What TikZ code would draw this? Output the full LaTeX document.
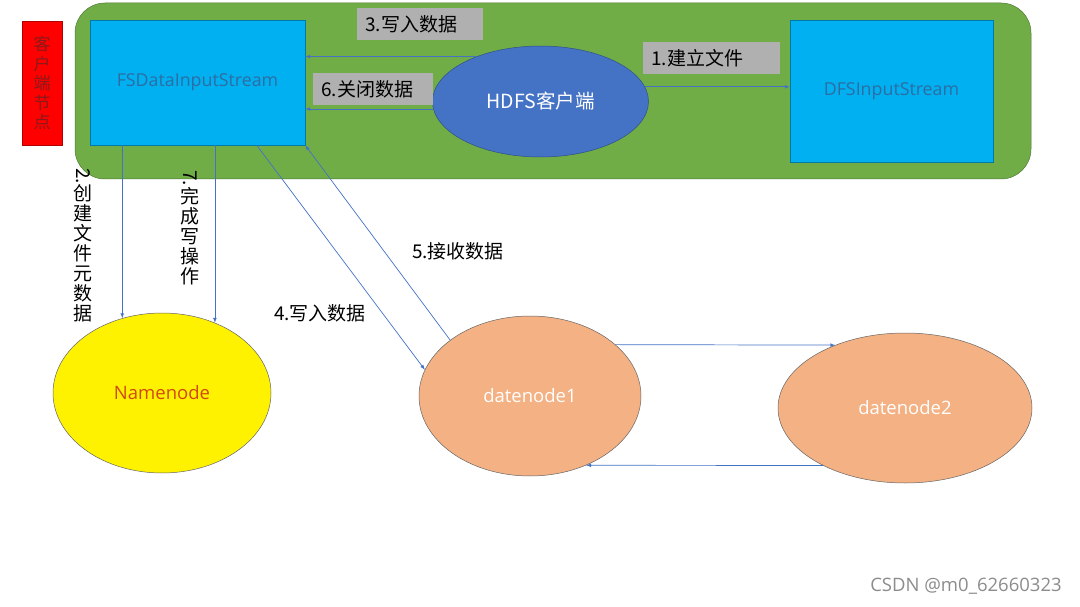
\documentclass[tikz,border=0pt]{standalone}
\usepackage{fontspec}
\usepackage{graphicx}
\setmainfont{Open Sans}
\newfontfamily\cjk{Noto Sans CJK SC}
\usetikzlibrary{shapes.geometric}
\definecolor{clientgreen}{HTML}{70AD47}
\definecolor{streamblue}{HTML}{00B0F0}
\definecolor{streamtext}{HTML}{2E6DA4}
\definecolor{hdfsblue}{HTML}{4472C4}
\definecolor{dnorange}{HTML}{F4B183}
\definecolor{lblgray}{HTML}{B0B0B0}
\definecolor{nametext}{HTML}{D04A14}
\definecolor{sidetext}{HTML}{8A1A1A}

\begin{document}
\begin{tikzpicture}[
  hdfsbox/.style={draw=#1!70!black, line width=0.5pt, fill=#1, inner sep=0pt},
  hdfsoval/.style={ellipse, draw=black!60, line width=0.5pt, fill=#1, inner sep=0pt},
  hdfsedge/.style={draw=hdfsblue, -latex, line width=0.7pt},
  hdfslabel/.style={fill=lblgray, anchor=north west, align=left, inner xsep=8pt,
                    minimum height=32pt, font=\cjk\fontsize{19}{22}\selectfont},
  hdfsnote/.style={font=\cjk\fontsize{19}{22}\selectfont, inner sep=0pt},
  hdfsvert/.style={font=\cjk\fontsize{19}{20}\selectfont, align=center, inner sep=0pt, anchor=north},
]
  \useasboundingbox (0pt,0pt) rectangle (1080pt,-607pt);
  \fill[white] (0pt,0pt) rectangle (1080pt,-607pt);
  \node[hdfsbox=clientgreen, rounded corners=30pt, minimum width=956pt, minimum height=176pt] (client) at (553pt,-91pt) {};
  \node[hdfsbox=red, minimum width=40pt, minimum height=124pt, text=sidetext, align=center,
        font=\cjk\fontsize{17}{19.5}\selectfont] (side) at (42pt,-83pt) {客\\户\\端\\节\\点};
  \node[hdfsbox=streamblue, minimum width=215pt, minimum height=125pt, text=streamtext,
        font=\fontsize{17.8}{20}\selectfont] (fsdata) at (197.5pt,-82.5pt) {FSDataInputStream};
  \node[hdfsbox=streamblue, minimum width=203pt, minimum height=142pt, text=streamtext,
        font=\fontsize{17.8}{20}\selectfont] (dfs) at (891.5pt,-91pt) {DFSInputStream};
  \node[hdfsoval=hdfsblue, draw=hdfsblue!70!black, minimum width=216pt, minimum height=111pt, text=white,
        font=\cjk\fontsize{19.5}{22}\selectfont] (hdfs) at (540.5pt,-101.5pt) {HDFS客户端};
  \node[hdfsoval=yellow, minimum width=218pt, minimum height=160pt, text=nametext,
        font=\fontsize{18.5}{20}\selectfont] (namenode) at (162pt,-393pt) {Namenode};
  \node[hdfsoval=dnorange, minimum width=222pt, minimum height=160pt, text=white,
        font=\fontsize{18.5}{20}\selectfont] (dn1) at (530pt,-396pt) {datenode1};
  \node[hdfsoval=dnorange, minimum width=254pt, minimum height=150pt, text=white,
        font=\fontsize{18.5}{20}\selectfont] (dn2) at (905pt,-408pt) {datenode2};
  \node[hdfslabel, text width=110pt] (l3) at (357pt,-8pt) {3.写入数据};
  \node[hdfslabel, text width=104pt] (l6) at (313pt,-73pt) {6.关闭数据};
  \node[hdfslabel, text width=121pt] (l1) at (643pt,-42pt) {1.建立文件};
  \draw[hdfsedge] (hdfs.145) -- (hdfs.145 -| fsdata.east);
  \draw[hdfsedge] (hdfs.184) -- (hdfs.184 -| fsdata.east);
  \draw[hdfsedge] (hdfs.8) -- (hdfs.8 -| dfs.west);
  \draw[hdfsedge] (fsdata.south -| namenode.118) -- (namenode.118);
  \draw[hdfsedge] (fsdata.south -| namenode.53) -- (namenode.53);
  \node[hdfsvert] (l2) at (83pt,-168pt) {\rotatebox{-90}{2.}\\创\\建\\文\\件\\元\\数\\据};
  \node[hdfsvert] (l7) at (190pt,-170pt) {\rotatebox{-90}{7.}\\完\\成\\写\\操\\作};
  \draw[hdfsedge] ([xshift=167pt]fsdata.south west) -- (dn1.166);
  \draw[hdfsedge] (dn1.145) -- (fsdata.south east);
  \node[hdfsnote] (l4) at (320pt,-313pt) {4.写入数据};
  \node[hdfsnote] (l5) at (458pt,-251pt) {5.接收数据};
  \draw[hdfsedge] (dn1.31) -- (dn2.138);
  \draw[hdfsedge] (dn2.215) -- (dn1.309);
  \node[text=black!45, font=\fontsize{18.5}{20}\selectfont] (mark) at (966pt,-586pt) {CSDN @m0\_62660323};
\end{tikzpicture}
\end{document}
